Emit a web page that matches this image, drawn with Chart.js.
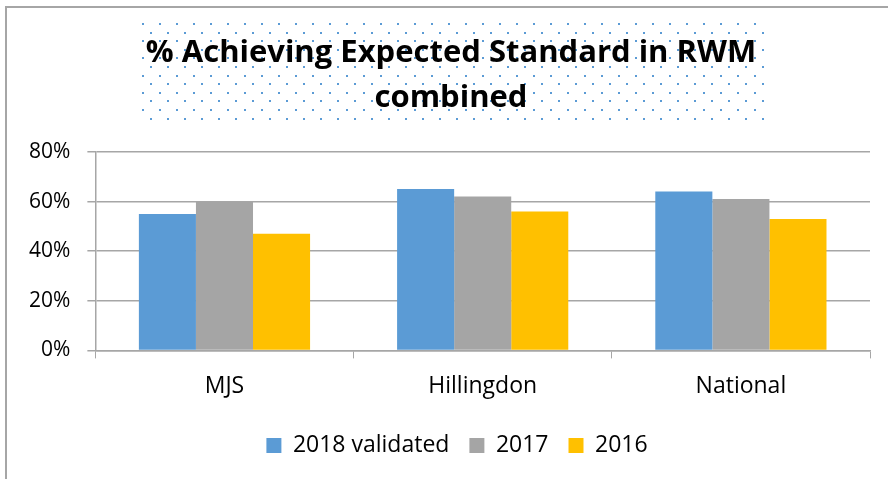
<!DOCTYPE html>
<html>
<head>
<meta charset="utf-8">
<script src="https://cdn.jsdelivr.net/npm/chart.js@4"></script>
<style>
  html, body { margin: 0; padding: 0; background: #fff; }
  #wrap { width: 888px; height: 479px; position: relative; }
</style>
</head>
<body>
<div id="wrap"><canvas id="myChart" width="888" height="479"></canvas></div>
<script>
var categories = ["MJS", "Hillingdon", "National"];
var series2018 = [55, 65, 64];
var series2017 = [60, 62, 61];
var series2016 = [47, 56, 53];
var seriesNames = ["2018 validated", "2017", "2016"];
var yTicks = [0, 20, 40, 60, 80];
var titleLines = ["% Achieving Expected Standard in RWM", "combined"];

var FONT = "'Open Sans', Lato, sans-serif";
var TITLE_SIZE = 31;

// frame lines (top + left) and the dotted box behind the title
var decor = {
  id: "decor",
  afterLayout: function (chart) {
    // the original's title and legend sit a little right of centre
    chart.titleBlock.left += 10;
    chart.titleBlock.right += 10;
    chart.legend.left += 16;
    chart.legend.right += 16;
  },
  beforeDraw: function (chart) {
    var ctx = chart.ctx;
    ctx.save();
    ctx.fillStyle = "#fff";
    ctx.fillRect(0, 0, chart.width, chart.height);
    ctx.strokeStyle = "#a6a6a6";
    ctx.lineWidth = 2;
    ctx.beginPath();
    ctx.moveTo(6, chart.height);
    ctx.lineTo(6, 7);
    ctx.lineTo(chart.width, 7);
    ctx.stroke();

    var tb = chart.titleBlock;
    ctx.font = "bold " + TITLE_SIZE + "px " + FONT;
    var w = ctx.measureText(titleLines[0]).width;
    var cx = (tb.left + tb.right) / 2;
    var left = cx - w / 2 - 4, right = cx + w / 2 + 11;
    var top = 23, bottom = 119;
    ctx.fillStyle = "#5b9bd5";
    var row = 0;
    for (var y = top; y <= bottom; y += 8.6) {
      var off = (row % 2) ? 8.5 : 0;
      for (var x = left + off; x <= right; x += 17) {
        ctx.fillRect(Math.round(x), Math.round(y), 2, 2);
      }
      row++;
    }
    ctx.restore();
  }
};

var ctx = document.getElementById("myChart").getContext("2d");
var chart = new Chart(ctx, {
  type: "bar",
  data: {
    labels: categories,
    datasets: [
      { label: seriesNames[0], data: series2018, backgroundColor: "#5b9bd5" },
      { label: seriesNames[1], data: series2017, backgroundColor: "#a5a5a5" },
      { label: seriesNames[2], data: series2016, backgroundColor: "#ffc000" }
    ]
  },
  options: {
    responsive: false,
    animation: false,
    layout: { padding: { left: 12, right: 18, top: 14, bottom: 12 } },
    datasets: { bar: { categoryPercentage: 0.663, barPercentage: 1.0, borderWidth: 0 } },
    plugins: {
      title: {
        display: true,
        text: titleLines,
        color: "#000",
        font: { family: FONT, size: TITLE_SIZE, weight: "bold", lineHeight: 1.45 },
        padding: { top: 17, bottom: 31 }
      },
      legend: {
        position: "bottom",
        labels: {
          color: "#000",
          font: { family: FONT, size: 23 },
          boxWidth: 15,
          boxHeight: 15,
          padding: 20
        }
      },
      tooltip: { enabled: false }
    },
    scales: {
      x: {
        grid: { drawOnChartArea: false, color: "#a6a6a6", tickLength: 8 },
        border: { color: "#a6a6a6", width: 1.5 },
        ticks: { color: "#000", font: { family: FONT, size: 23 }, padding: 14 }
      },
      y: {
        min: 0,
        max: 80,
        afterBuildTicks: function (axis) {
          axis.ticks = yTicks.map(function (v) { return { value: v }; });
        },
        grid: { color: "#a6a6a6", lineWidth: 1.5, tickLength: 8 },
        border: { color: "#a6a6a6", width: 1.5 },
        ticks: {
          color: "#000",
          font: { family: FONT, size: 21 },
          padding: 17,
          callback: function (v) { return v + "%"; }
        }
      }
    }
  },
  plugins: [decor]
});
</script>
</body>
</html>
